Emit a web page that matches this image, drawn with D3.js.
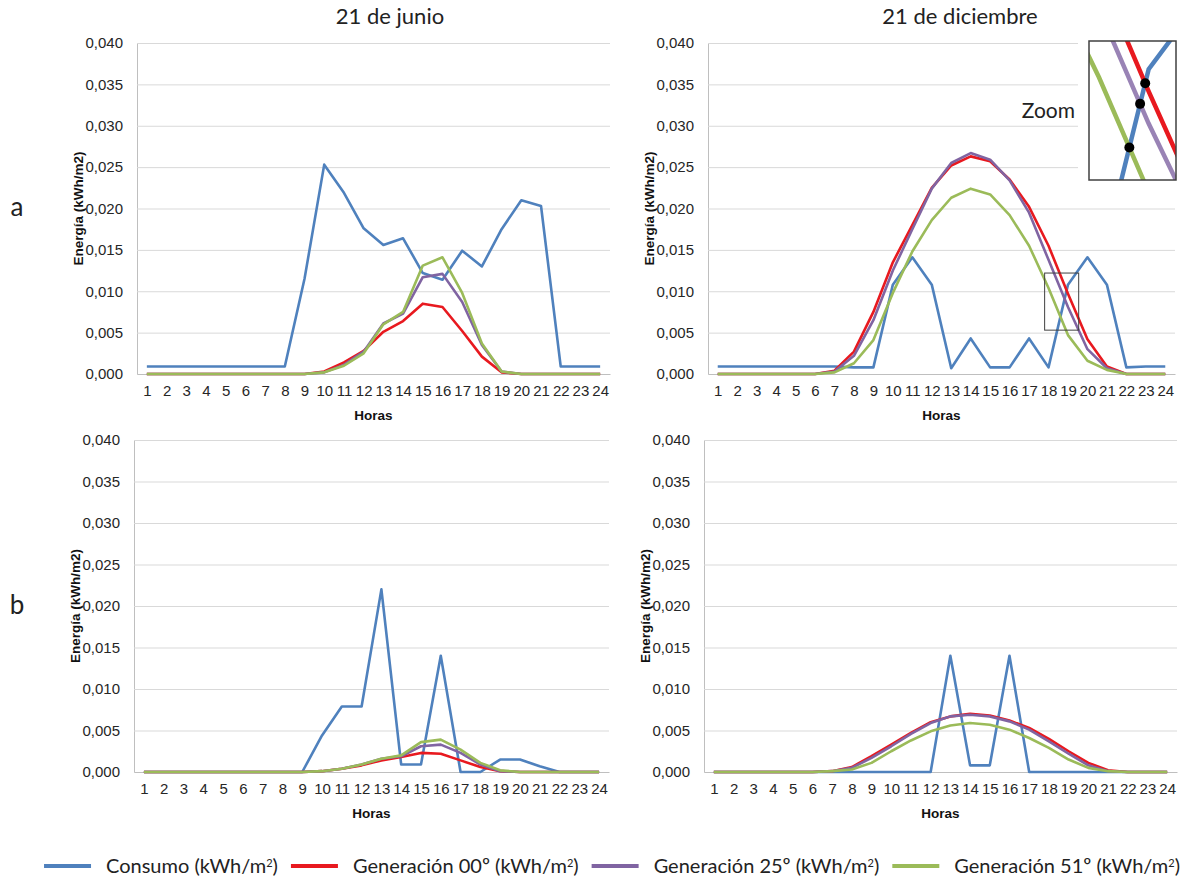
<!DOCTYPE html>
<html lang="es">
<head>
<meta charset="utf-8">
<title>Energía horaria</title>
<script src="https://cdn.jsdelivr.net/npm/d3@7/dist/d3.min.js"></script>
<style>
  body { margin: 0; background: #fff; }
  svg { display: block; }
  .tick-label { font-family: "Liberation Sans Narrow", "Arial Narrow", sans-serif; font-size: 15px; fill: #262626; }
  .axis-title { font-family: "Liberation Sans", Arial, sans-serif; font-weight: bold; font-size: 13.5px; fill: #111; }
  .soft { font-family: Lato, "Open Sans", sans-serif; fill: #222; }
</style>
</head>
<body>
<div id="chart"></div>
<script>
// x axis categories and y axis ticks
const hours = [1, 2, 3, 4, 5, 6, 7, 8, 9, 10, 11, 12, 13, 14, 15, 16, 17, 18, 19, 20, 21, 22, 23, 24];
const yTicks = [0, 0.005, 0.010, 0.015, 0.020, 0.025, 0.030, 0.035, 0.040];

const seriesNames = ['Consumo', 'Generación 00º', 'Generación 25º', 'Generación 51º'];
const seriesColors = ['#4f81bd', '#e8191f', '#8064a2', '#9bbb59'];
const columnTitles = ['21 de junio', '21 de diciembre'];
const rowLabels = ['a', 'b'];

// a - 21 de junio
const consumoJunA = [0.0009, 0.0009, 0.0009, 0.0009, 0.0009, 0.0009, 0.0009, 0.0009, 0.0115, 0.0253, 0.0219, 0.0176,
                     0.0156, 0.0164, 0.0122, 0.0114, 0.0149, 0.0130, 0.0175, 0.0210, 0.0203, 0.0009, 0.0009, 0.0009];
const gen00JunA = [0, 0, 0, 0, 0, 0, 0, 0, 0, 0.0003, 0.0014, 0.0028,
                   0.0051, 0.0064, 0.0085, 0.0081, 0.0052, 0.0021, 0.0002, 0, 0, 0, 0, 0];
const gen25JunA = [0, 0, 0, 0, 0, 0, 0, 0, 0, 0.0002, 0.0011, 0.0027,
                   0.0061, 0.0073, 0.0117, 0.0121, 0.0087, 0.0035, 0.0003, 0, 0, 0, 0, 0];
const gen51JunA = [0, 0, 0, 0, 0, 0, 0, 0, 0, 0.0002, 0.0010, 0.0025,
                   0.0060, 0.0075, 0.0131, 0.0141, 0.0098, 0.0037, 0.0003, 0, 0, 0, 0, 0];

// a - 21 de diciembre
const consumoDicA = [0.0009, 0.0009, 0.0009, 0.0009, 0.0009, 0.0009, 0.0009, 0.0008, 0.0008, 0.0108, 0.0141, 0.0108,
                     0.0007, 0.0043, 0.0008, 0.0008, 0.0043, 0.0008, 0.0108, 0.0141, 0.0108, 0.0008, 0.0009, 0.0009];
const gen00DicA = [0, 0, 0, 0, 0, 0, 0.0004, 0.0027, 0.0075, 0.0135, 0.0180, 0.0225,
                   0.0252, 0.0263, 0.0257, 0.0235, 0.0202, 0.0155, 0.0097, 0.0042, 0.0009, 0, 0, 0];
const gen25DicA = [0, 0, 0, 0, 0, 0, 0.0003, 0.0022, 0.0065, 0.0125, 0.0175, 0.0224,
                   0.0255, 0.0267, 0.0259, 0.0234, 0.0195, 0.0138, 0.0081, 0.0030, 0.0007, 0, 0, 0];
const gen51DicA = [0, 0, 0, 0, 0, 0, 0.0002, 0.0013, 0.0041, 0.0098, 0.0148, 0.0186,
                   0.0213, 0.0224, 0.0217, 0.0192, 0.0155, 0.0104, 0.0047, 0.0016, 0.0005, 0, 0, 0];

// b - 21 de junio
const consumoJunB = [0, 0, 0, 0, 0, 0, 0, 0, 0, 0.0044, 0.0079, 0.0079,
                     0.0220, 0.0009, 0.0009, 0.0140, 0, 0, 0.0015, 0.0015, 0.0007, 0, 0, 0];
const gen00JunB = [0, 0, 0, 0, 0, 0, 0, 0, 0, 0.0001, 0.0004, 0.0008,
                   0.0014, 0.0018, 0.0023, 0.0022, 0.0014, 0.0006, 0.0001, 0, 0, 0, 0, 0];
const gen25JunB = [0, 0, 0, 0, 0, 0, 0, 0, 0, 0.0001, 0.0004, 0.0009,
                   0.0016, 0.0019, 0.0031, 0.0033, 0.0023, 0.0009, 0.0001, 0, 0, 0, 0, 0];
const gen51JunB = [0, 0, 0, 0, 0, 0, 0, 0, 0, 0.0001, 0.0004, 0.0009,
                   0.0016, 0.0020, 0.0036, 0.0039, 0.0027, 0.0011, 0.0002, 0, 0, 0, 0, 0];

// b - 21 de diciembre
const consumoDicB = [0, 0, 0, 0, 0, 0, 0, 0, 0, 0, 0, 0,
                     0.0140, 0.0008, 0.0008, 0.0140, 0, 0, 0, 0, 0, 0, 0, 0];
const gen00DicB = [0, 0, 0, 0, 0, 0, 0.0001, 0.0006, 0.0019, 0.0033, 0.0047, 0.0060,
                   0.0067, 0.0070, 0.0068, 0.0062, 0.0053, 0.0040, 0.0025, 0.0011, 0.0002, 0, 0, 0];
const gen25DicB = [0, 0, 0, 0, 0, 0, 0.0001, 0.0005, 0.0017, 0.0031, 0.0046, 0.0059,
                   0.0067, 0.0069, 0.0067, 0.0061, 0.0051, 0.0037, 0.0022, 0.0008, 0.0001, 0, 0, 0];
const gen51DicB = [0, 0, 0, 0, 0, 0, 0.0001, 0.0003, 0.0011, 0.0025, 0.0038, 0.0049,
                   0.0056, 0.0059, 0.0057, 0.0051, 0.0041, 0.0029, 0.0015, 0.0005, 0.0001, 0, 0, 0];

// window shown enlarged in the "Zoom" inset (hours, energy)
const zoomHours = [17.8, 19.55];
const zoomEnergy = [0.0053, 0.0122];

const fmtComma = d => d3.format('.3f')(d).replace('.', ',');

class EnergyPanel {

  constructor(_config, series) {
    this.config = {
      svg: _config.svg,
      left: _config.left,
      right: _config.right,
      top: _config.top,
      bottom: _config.bottom,
      zoom: _config.zoom || null
    };
    this.series = series;
    this.initVis();
  }

  initVis() {
    let vis = this;
    const c = vis.config;

    vis.width = c.right - c.left;
    vis.xScale = d3.scaleLinear().domain([0.5, 24.5]).range([c.left, c.right]);
    vis.yScale = d3.scaleLinear().domain([0, 0.04]).range([c.bottom, c.top]);

    vis.g = c.svg.append('g');

    vis.yAxis = d3.axisLeft(vis.yScale)
      .tickValues(yTicks)
      .tickFormat(fmtComma)
      .tickSizeInner(-vis.width)
      .tickSizeOuter(0)
      .tickPadding(14);

    vis.xAxis = d3.axisBottom(vis.xScale)
      .tickValues(hours)
      .tickSize(0)
      .tickPadding(11);

    vis.yAxisGroup = vis.g.append('g')
      .attr('transform', `translate(${c.left},0)`)
      .call(vis.yAxis);
    vis.yAxisGroup.selectAll('.tick line').attr('stroke', '#d9d9d9');
    vis.yAxisGroup.select('.domain').attr('stroke', '#bfbfbf');
    vis.yAxisGroup.selectAll('text').attr('class', 'tick-label');

    vis.xAxisGroup = vis.g.append('g')
      .attr('transform', `translate(0,${c.bottom})`)
      .call(vis.xAxis);
    vis.xAxisGroup.select('.domain').attr('stroke', '#bfbfbf');
    vis.xAxisGroup.selectAll('text').attr('class', 'tick-label');

    vis.g.append('text')
      .attr('class', 'axis-title')
      .attr('x', (c.left + c.right) / 2)
      .attr('y', c.bottom + 46)
      .attr('text-anchor', 'middle')
      .text('Horas');

    vis.g.append('text')
      .attr('class', 'axis-title')
      .attr('transform', `translate(${c.left - 59},${(c.top + c.bottom) / 2}) rotate(-90)`)
      .attr('text-anchor', 'middle')
      .attr('dy', '0.35em')
      .text('Energía (kWh/m2)');

    vis.renderVis();
  }

  renderVis() {
    let vis = this;

    const line = d3.line()
      .x((d, i) => vis.xScale(hours[i]))
      .y(d => vis.yScale(d));

    vis.g.selectAll('.series')
      .data(vis.series)
      .join('path')
      .attr('class', 'series')
      .attr('fill', 'none')
      .attr('stroke', (d, i) => seriesColors[i])
      .attr('stroke-width', 2.6)
      .attr('stroke-linejoin', 'round')
      .attr('d', d => line(d));

    if (vis.config.zoom) vis.renderZoom();
  }

  // enlarged view of the crossing between consumption and generation
  renderZoom() {
    let vis = this;
    const z = vis.config.zoom;

    vis.g.append('rect')
      .attr('x', vis.xScale(zoomHours[0]))
      .attr('y', vis.yScale(zoomEnergy[1]))
      .attr('width', vis.xScale(zoomHours[1]) - vis.xScale(zoomHours[0]))
      .attr('height', vis.yScale(zoomEnergy[0]) - vis.yScale(zoomEnergy[1]))
      .attr('fill', 'none')
      .attr('stroke', '#404040')
      .attr('stroke-width', 1);

    // white patch hiding the gridlines behind the inset
    vis.g.append('rect')
      .attr('x', z.coverX)
      .attr('y', z.y0 - 8)
      .attr('width', z.x1 - z.coverX + 8)
      .attr('height', z.y1 - z.y0 + 14)
      .attr('fill', '#fff');

    vis.g.append('text')
      .attr('class', 'soft')
      .attr('x', z.x0 - 14)
      .attr('y', 118)
      .attr('text-anchor', 'end')
      .style('font-size', '21px')
      .text('Zoom');

    const zx = d3.scaleLinear().domain(zoomHours).range([z.x0, z.x1]);
    const zy = d3.scaleLinear().domain(zoomEnergy).range([z.y1, z.y0]);

    vis.g.append('defs').append('clipPath')
      .attr('id', 'zoom-mask')
      .append('rect')
      .attr('x', z.x0).attr('y', z.y0)
      .attr('width', z.x1 - z.x0).attr('height', z.y1 - z.y0);

    const inset = vis.g.append('g').attr('clip-path', 'url(#zoom-mask)');
    const zline = d3.line()
      .x((d, i) => zx(hours[i]))
      .y(d => zy(d));

    inset.selectAll('.zseries')
      .data(vis.series)
      .join('path')
      .attr('class', 'zseries')
      .attr('fill', 'none')
      .attr('stroke', (d, i) => seriesColors[i])
      .attr('stroke-opacity', (d, i) => i === 2 ? 0.8 : 1)
      .attr('stroke-width', 4.5)
      .attr('d', d => zline(d));

    // crossings of consumption with each generation curve
    const consumo = vis.series[0];
    const crossings = [];
    vis.series.slice(1).forEach(gen => {
      for (let i = 0; i < hours.length - 1; i++) {
        const d0 = consumo[i] - gen[i];
        const d1 = consumo[i + 1] - gen[i + 1];
        if (d0 < 0 && d1 > 0) {
          const t = d0 / (d0 - d1);
          const h = hours[i] + t;
          if (h > zoomHours[0] && h < zoomHours[1]) {
            crossings.push({ h: h, v: consumo[i] + t * (consumo[i + 1] - consumo[i]) });
          }
        }
      }
    });

    inset.selectAll('.crossing')
      .data(crossings)
      .join('circle')
      .attr('class', 'crossing')
      .attr('cx', d => zx(d.h))
      .attr('cy', d => zy(d.v))
      .attr('r', 5)
      .attr('fill', '#000');

    vis.g.append('rect')
      .attr('x', z.x0).attr('y', z.y0)
      .attr('width', z.x1 - z.x0).attr('height', z.y1 - z.y0)
      .attr('fill', 'none')
      .attr('stroke', '#404040')
      .attr('stroke-width', 1.5);
  }
}

const svg = d3.select('#chart').append('svg')
  .attr('width', 1187)
  .attr('height', 880);

const panels = [
  { left: 137, right: 610, top: 43, bottom: 374, series: [consumoJunA, gen00JunA, gen25JunA, gen51JunA] },
  { left: 708, right: 1175, top: 43, bottom: 374, series: [consumoDicA, gen00DicA, gen25DicA, gen51DicA],
    zoom: { x0: 1089, x1: 1176, y0: 41, y1: 180, coverX: 1078 } },
  { left: 134, right: 609, top: 440, bottom: 772, series: [consumoJunB, gen00JunB, gen25JunB, gen51JunB] },
  { left: 704, right: 1177, top: 440, bottom: 772, series: [consumoDicB, gen00DicB, gen25DicB, gen51DicB] }
];

panels.forEach(p => new EnergyPanel({
  svg: svg, left: p.left, right: p.right, top: p.top, bottom: p.bottom, zoom: p.zoom
}, p.series));

// column titles and row labels
svg.selectAll('.col-title')
  .data(columnTitles)
  .join('text')
  .attr('class', 'col-title soft')
  .attr('x', (d, i) => [390, 960][i])
  .attr('y', 24)
  .attr('text-anchor', 'middle')
  .style('font-size', '22px')
  .text(d => d);

svg.selectAll('.row-label')
  .data(rowLabels)
  .join('text')
  .attr('class', 'row-label soft')
  .attr('x', 17)
  .attr('y', (d, i) => [207, 605][i])
  .attr('dy', '0.35em')
  .attr('text-anchor', 'middle')
  .style('font-size', '26px')
  .text(d => d);

// legend, right edge aligned with the charts
const legend = svg.append('g').attr('class', 'legend');
const items = legend.selectAll('.item')
  .data(seriesNames)
  .join('g')
  .attr('class', 'item');

items.append('line')
  .attr('x1', 0).attr('x2', 47)
  .attr('y1', 0).attr('y2', 0)
  .attr('stroke', (d, i) => seriesColors[i])
  .attr('stroke-width', 4);

const labels = items.append('text')
  .attr('class', 'soft')
  .attr('x', 62)
  .attr('dy', '0.35em')
  .style('font-size', '20px');
labels.append('tspan').text(d => d + ' (kWh/m');
labels.append('tspan').attr('baseline-shift', 'super').style('font-size', '11px').text('2');
labels.append('tspan').text(')');

const widths = [];
labels.each(function () { widths.push(62 + this.getComputedTextLength()); });
const gap = 13;
let total = d3.sum(widths) + gap * (widths.length - 1);
let xPos = 1180 - total;
items.each(function (d, i) {
  d3.select(this).attr('transform', `translate(${xPos},866)`);
  xPos += widths[i] + gap;
});
</script>
</body>
</html>
